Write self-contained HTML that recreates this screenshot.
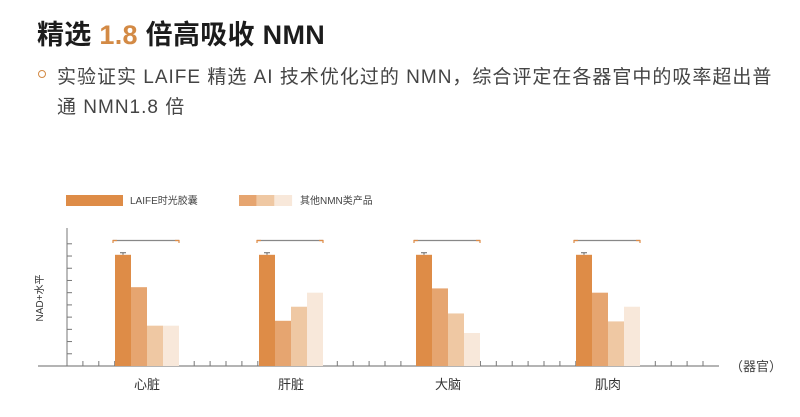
<!DOCTYPE html>
<html><head><meta charset="utf-8"><style>
body{margin:0;width:800px;height:417px;background:#fff;overflow:hidden;font-family:"Liberation Sans","Noto Sans CJK SC",sans-serif;position:relative}
.title{position:absolute;left:37px;top:13px;font-size:27px;font-weight:bold;color:#1c1c1c;white-space:nowrap;letter-spacing:0.3px}
.title span{color:#d38a45}
.bul{position:absolute;left:38px;top:70px;width:6px;height:6px;border:1.5px solid #d38a45;border-radius:50%}
.p{position:absolute;left:57px;font-size:19px;letter-spacing:1px;color:#444;white-space:nowrap}
svg{position:absolute;left:0;top:0}
</style></head><body>
<div class="title">精选 <span>1.8</span> 倍高吸收 NMN</div>
<div class="bul"></div>
<div class="p" style="top:62px">实验证实 LAIFE 精选 AI 技术优化过的 NMN，综合评定在各器官中的吸率超出普</div>
<div class="p" style="top:92px">通 NMN1.8 倍</div>
<svg id="chart" width="800" height="417"></svg>
<script>
const categories=["心脏","肝脏","大脑","肌肉"];
const laife=[9.1,9.1,9.1,9.1];
const other1=[6.45,3.7,6.35,6.0];
const other2=[3.3,4.85,4.3,3.65];
const other3=[3.3,6.0,2.7,4.85];
const yTicks=[1,2,3,4,5,6,7,8,9,10];
const groupStart=[115,259,416,576];
const colors=["#de8c47","#e6a570","#efc8a3","#f8e8da"];
const NS="http://www.w3.org/2000/svg";
const svg=document.getElementById('chart');
const base=366,unit=12.22,bw=16;
function y(v){return base-v*unit;}
function mk(t,a){const e=document.createElementNS(NS,t);for(const k in a)e.setAttribute(k,a[k]);svg.appendChild(e);return e;}
let e=mk('rect',{x:66,y:195,width:57,height:11,fill:colors[0]});


e=mk('text',{x:130,y:204,'font-size':10,fill:'#444'});e.textContent='LAIFE时光胶囊';


for(let i=0;i<3;i++){e=mk('rect',{x:239+i*17.7,y:195,width:17.7,height:11,fill:colors[i+1]});

}
e=mk('text',{x:300,y:204,'font-size':10,fill:'#444'});e.textContent='其他NMN类产品';


e=mk('line',{x1:67,y1:228,x2:67,y2:366,stroke:'#777','stroke-width':1});


yTicks.forEach(t=>{e=mk('line',{x1:67,y1:y(t),x2:72,y2:y(t),stroke:'#777','stroke-width':1});

});
e=mk('line',{x1:38,y1:366,x2:719,y2:366,stroke:'#888','stroke-width':1.2});


for(let x=67;x<=716;x+=15.9){e=mk('line',{x1:x,y1:361,x2:x,y2:366,stroke:'#777','stroke-width':1});

}
e=mk('text',{x:43,y:298,'font-size':10,fill:'#333','text-anchor':'middle',transform:'rotate(-90 43 298)'});e.textContent='NAD+水平';


e=mk('text',{x:730,y:371,'font-size':13,fill:'#444'});e.textContent='（器官）';


const series=[laife,other1,other2,other3];
categories.forEach((c,i)=>{
  const gx=groupStart[i];
  series.forEach((s,j)=>{
    e=mk('rect',{x:gx+j*bw,y:y(s[i]),width:bw,height:base-y(s[i]),fill:colors[j]});
    
    
  });
  const ey=y(laife[i])-2;
  e=mk('path',{d:`M${gx+5} ${ey}H${gx+11}M${gx+8} ${ey}V${y(laife[i])}`,stroke:'#666','stroke-width':1,fill:'none'});
  
  
  e=mk('line',{x1:gx-2,y1:240.5,x2:gx+4*bw,y2:240.5,stroke:'#888','stroke-width':1.2});
  
  
  mk('path',{d:`M${gx-2} 243V240.5H${gx+2}M${gx+4*bw-4} 240.5H${gx+4*bw}V243`,stroke:colors[0],'stroke-width':1.2,fill:'none'});
  e=mk('text',{x:gx+32,y:389,'font-size':13,fill:'#333','text-anchor':'middle'});e.textContent=c;
  
  
});
</script>
</body></html>
